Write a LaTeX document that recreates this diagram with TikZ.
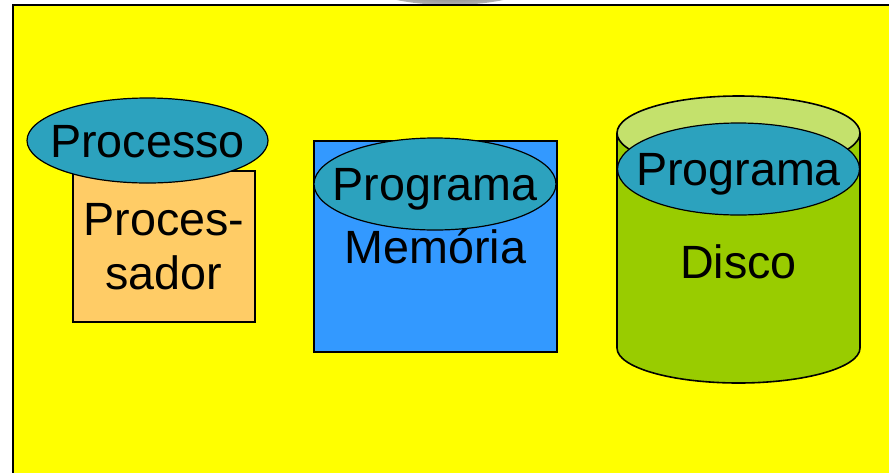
\documentclass[tikz,border=0pt]{standalone}
\usepackage{fontspec}
\setmainfont{Liberation Sans}
\usetikzlibrary{shapes.geometric}
\definecolor{fundo}{HTML}{FFFF00}
\definecolor{azul}{HTML}{2CA2BE}
\definecolor{laranja}{HTML}{FFCC66}
\definecolor{memoria}{HTML}{3399FF}
\definecolor{verde}{HTML}{99CC00}
\definecolor{verdeclaro}{HTML}{C4E16C}

\tikzset{
  rotulo/.style={font=\fontsize{35}{40.5}\selectfont},
  elipse/.style={ellipse, draw=black, line width=0.9pt, fill=azul, inner sep=0pt,
    label={[rotulo, inner sep=0pt, yshift=-4.4pt]center:\strut #1}},
  caixa/.style={draw=black, line width=1.2pt, inner sep=0pt, align=center, rotulo},
}

\begin{document}
\begin{tikzpicture}[x=0.75pt,y=-0.75pt]
    \useasboundingbox (0,0) rectangle (889,472);
    \clip (0,0) rectangle (889,472);
    % pedaco cinza no topo
    \shade[inner color=gray!40!black, outer color=gray!60] (450,-24) ellipse [x radius=95, y radius=29];
    % quadro amarelo
    \draw[line width=1.8pt, fill=fundo] (13,5) rectangle (905,490);

    % processador
    \node[caixa, fill=laranja, minimum width=136.5pt, minimum height=113.25pt] (proc) at (164,246.5) {Proces-\\sador};
    \node[elipse=Processo, minimum width=180.75pt, minimum height=63.75pt] (processo) at (147.5,140.5) {};

    % memoria
    \node[caixa, fill=memoria, minimum width=182.25pt, minimum height=158.25pt] (mem) at (435.5,246.5) {Mem\'oria};
    \node[elipse=Programa, minimum width=181.5pt, minimum height=69pt] (progmem) at (435,184) {};

    % disco
    \draw[line width=1.2pt, fill=verde] (617,133) -- (617,348)
        arc[start angle=180, end angle=0, x radius=121.5, y radius=35] -- (860,133);
    \draw[line width=1.2pt, fill=verdeclaro] (738.5,133) ellipse [x radius=121.5, y radius=37];
    \node[elipse=Programa, minimum width=181.5pt, minimum height=69pt] (progdisco) at (738.5,169) {};
    \node[rotulo] (disco) at (738.5,262) {Disco};
\end{tikzpicture}
\end{document}
